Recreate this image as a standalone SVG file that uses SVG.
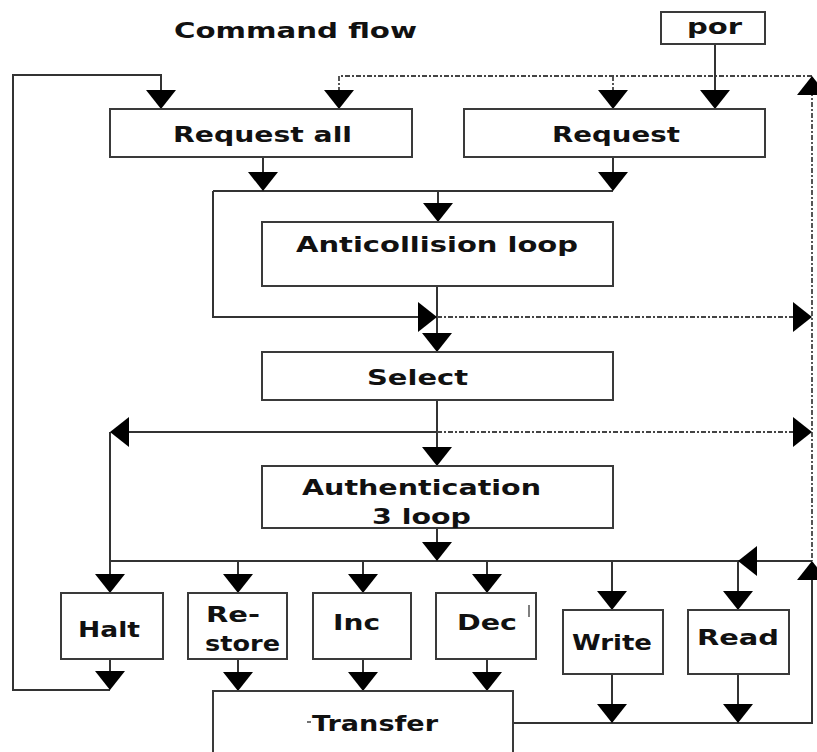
<svg xmlns="http://www.w3.org/2000/svg" xmlns:xlink="http://www.w3.org/1999/xlink" width="817" height="752" viewBox="0 0 817 752">
<style>
.box{fill:#fff;stroke:#3a3a3a;stroke-width:2}
.t{font-family:"DejaVu Sans","Liberation Sans",sans-serif;font-weight:bold;font-size:22px;fill:#111}
.ln{fill:none;stroke:#333;stroke-width:2}
.dl{fill:none;stroke:#444;stroke-width:1.8;stroke-dasharray:5 2 2 2}
.ah{fill:#000}
</style>
<defs>
<path id="ah" class="ah" d="M-15,-19 L15,-19 L0,0 Z"/>
</defs>
<rect width="817" height="752" fill="#fff"/>

<text class="t" x="174" y="38" textLength="243" lengthAdjust="spacingAndGlyphs">Command flow</text>

<g id="connectors">
  <polyline class="ln" points="110,690 13,690 13,75 161,75 161,92"/>
  <polyline class="dl" points="339,92 339,76 812,76"/>
  <line class="dl" x1="613" y1="76" x2="613" y2="92"/>
  <line class="dl" x1="812" y1="80" x2="812" y2="561"/>
  <line class="ln" x1="715" y1="44" x2="715" y2="92"/>
  <line class="ln" x1="263" y1="157" x2="263" y2="175"/>
  <line class="ln" x1="613" y1="157" x2="613" y2="175"/>
  <line class="ln" x1="213" y1="191" x2="613" y2="191"/>
  <line class="ln" x1="438" y1="191" x2="438" y2="206"/>
  <polyline class="ln" points="213,191 213,317 420,317"/>
  <line class="ln" x1="437" y1="286" x2="437" y2="336"/>
  <line class="dl" x1="437" y1="317" x2="796" y2="317"/>
  <line class="ln" x1="437" y1="400" x2="437" y2="450"/>
  <line class="ln" x1="125" y1="432" x2="437" y2="432"/>
  <line class="dl" x1="437" y1="432" x2="796" y2="432"/>
  <line class="ln" x1="110" y1="432" x2="110" y2="576"/>
  <line class="ln" x1="437" y1="528" x2="437" y2="545"/>
  <line class="ln" x1="110" y1="561" x2="812" y2="561"/>
  <line class="ln" x1="238" y1="561" x2="238" y2="576"/>
  <line class="ln" x1="363" y1="561" x2="363" y2="576"/>
  <line class="ln" x1="487" y1="561" x2="487" y2="576"/>
  <line class="ln" x1="612" y1="561" x2="612" y2="593"/>
  <line class="ln" x1="738" y1="561" x2="738" y2="593" stroke="#666" stroke-width="3"/>
  <line class="ln" x1="110" y1="659" x2="110" y2="674"/>
  <line class="ln" x1="238" y1="659" x2="238" y2="675"/>
  <line class="ln" x1="363" y1="659" x2="363" y2="675"/>
  <line class="ln" x1="487" y1="659" x2="487" y2="675"/>
  <line class="ln" x1="612" y1="674" x2="612" y2="706"/>
  <line class="ln" x1="738" y1="674" x2="738" y2="706" stroke="#666" stroke-width="3"/>
  <polyline class="ln" points="513,723 812,723 812,575"/>
  <use xlink:href="#ah" transform="translate(161,109)"/>
  <use xlink:href="#ah" transform="translate(339,109)"/>
  <use xlink:href="#ah" transform="translate(613,109)"/>
  <use xlink:href="#ah" transform="translate(715,109)"/>
  <use xlink:href="#ah" transform="translate(812,76) rotate(180)"/>
  <use xlink:href="#ah" transform="translate(263,191)"/>
  <use xlink:href="#ah" transform="translate(613,191)"/>
  <use xlink:href="#ah" transform="translate(438,222)"/>
  <use xlink:href="#ah" transform="translate(437,317) rotate(-90)"/>
  <use xlink:href="#ah" transform="translate(812,317) rotate(-90)"/>
  <use xlink:href="#ah" transform="translate(437,352)"/>
  <use xlink:href="#ah" transform="translate(110,432) rotate(90)"/>
  <use xlink:href="#ah" transform="translate(812,432) rotate(-90)"/>
  <use xlink:href="#ah" transform="translate(437,466)"/>
  <use xlink:href="#ah" transform="translate(437,561)"/>
  <use xlink:href="#ah" transform="translate(738,561) rotate(90)"/>
  <use xlink:href="#ah" transform="translate(812,561) rotate(180)"/>
  <use xlink:href="#ah" transform="translate(110,593)"/>
  <use xlink:href="#ah" transform="translate(238,593)"/>
  <use xlink:href="#ah" transform="translate(363,593)"/>
  <use xlink:href="#ah" transform="translate(487,593)"/>
  <use xlink:href="#ah" transform="translate(612,610)"/>
  <use xlink:href="#ah" transform="translate(738,610)"/>
  <use xlink:href="#ah" transform="translate(110,690)"/>
  <use xlink:href="#ah" transform="translate(238,691)"/>
  <use xlink:href="#ah" transform="translate(363,691)"/>
  <use xlink:href="#ah" transform="translate(487,691)"/>
  <use xlink:href="#ah" transform="translate(612,723)"/>
  <use xlink:href="#ah" transform="translate(738,723)"/>
</g>

<g id="por">
  <rect class="box" x="661" y="12" width="104" height="32"/>
  <text class="t" x="687" y="34" textLength="55" lengthAdjust="spacingAndGlyphs">por</text>
</g>
<g id="request-all">
  <rect class="box" x="110" y="109" width="302" height="48"/>
  <text class="t" x="173" y="142" textLength="179" lengthAdjust="spacingAndGlyphs">Request all</text>
</g>
<g id="request">
  <rect class="box" x="464" y="109" width="301" height="48"/>
  <text class="t" x="552" y="142" textLength="128" lengthAdjust="spacingAndGlyphs">Request</text>
</g>
<g id="anticollision">
  <rect class="box" x="262" y="222" width="351" height="64"/>
  <text class="t" x="296" y="252" textLength="282" lengthAdjust="spacingAndGlyphs">Anticollision loop</text>
</g>
<g id="select">
  <rect class="box" x="262" y="352" width="351" height="48"/>
  <text class="t" x="367" y="385" textLength="101" lengthAdjust="spacingAndGlyphs">Select</text>
</g>
<g id="authentication">
  <rect class="box" x="262" y="466" width="351" height="62"/>
  <text class="t" x="302" y="495" textLength="239" lengthAdjust="spacingAndGlyphs">Authentication</text>
  <text class="t" x="372" y="524" textLength="99" lengthAdjust="spacingAndGlyphs">3 loop</text>
</g>
<g id="halt">
  <rect class="box" x="61" y="593" width="102" height="66"/>
  <text class="t" x="78" y="637" textLength="62" lengthAdjust="spacingAndGlyphs">Halt</text>
</g>
<g id="restore">
  <rect class="box" x="188" y="593" width="99" height="66"/>
  <text class="t" x="206" y="622" textLength="54" lengthAdjust="spacingAndGlyphs">Re-</text>
  <text class="t" x="205" y="651" textLength="75" lengthAdjust="spacingAndGlyphs">store</text>
</g>
<g id="inc">
  <rect class="box" x="313" y="593" width="98" height="66"/>
  <text class="t" x="333" y="630" textLength="47" lengthAdjust="spacingAndGlyphs">Inc</text>
</g>
<g id="dec">
  <rect class="box" x="436" y="593" width="100" height="66"/>
  <text class="t" x="457" y="630" textLength="60" lengthAdjust="spacingAndGlyphs">Dec</text>
  <line x1="529" y1="605" x2="529" y2="617" stroke="#555" stroke-width="1.5"/>
</g>
<g id="write">
  <rect class="box" x="563" y="610" width="100" height="64"/>
  <text class="t" x="572" y="650" textLength="80" lengthAdjust="spacingAndGlyphs">Write</text>
</g>
<g id="read">
  <rect class="box" x="688" y="610" width="101" height="64"/>
  <text class="t" x="697" y="645" textLength="82" lengthAdjust="spacingAndGlyphs">Read</text>
</g>
<g id="transfer">
  <rect class="box" x="213" y="691" width="300" height="80"/>
  <line x1="307" y1="722" x2="311" y2="722" stroke="#444" stroke-width="1.5"/>
  <text class="t" x="312" y="731" textLength="126" lengthAdjust="spacingAndGlyphs">Transfer</text>
</g>
</svg>
